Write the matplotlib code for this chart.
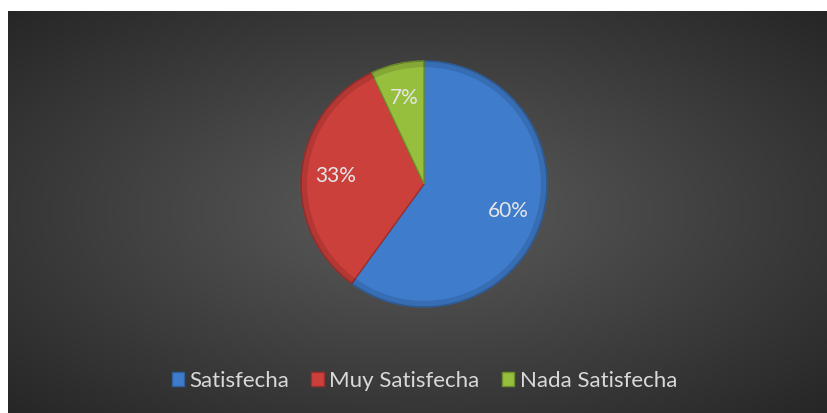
import matplotlib.pyplot as plt
import numpy as np
from matplotlib.patches import Patch, Wedge

# chart data
categories = ['Satisfecha', 'Muy Satisfecha', 'Nada Satisfecha']
values = [60, 33, 7]
colors = ['#3f7dcc', '#cc403c', '#97bf3e']
edge_colors = ['#2f5f9e', '#9a2f2c', '#6f8f2a']

plt.rcParams['font.family'] = ['Lato', 'DejaVu Sans']

W, H = 827, 413
fig = plt.figure(figsize=(W / 100, H / 100), dpi=100)
fig.patch.set_facecolor('white')

# dark radial-gradient background
bg = fig.add_axes([8 / W, 0, (W - 8) / W, (H - 11) / H])
bg.set_axis_off()
yy, xx = np.mgrid[-1:1:300j, -1:1:600j]
r = np.sqrt(xx ** 2 + yy ** 2) / np.sqrt(2)
shade = 0.36 - 0.21 * np.clip(r, 0, 1)
bg.imshow(np.dstack([shade] * 3), aspect='auto', extent=[0, 1, 0, 1],
          interpolation='bilinear')

# pie
cx, cy, rad = 424, H - 184, 123
ax = fig.add_axes([(cx - rad) / W, (cy - rad) / H, 2 * rad / W, 2 * rad / H])
wedges, texts, autotexts = ax.pie(
    values, colors=colors, startangle=90, counterclock=False,
    autopct='%1.0f%%', pctdistance=0.72,
    wedgeprops=dict(linewidth=1.0),
    textprops=dict(color='#e6e6e6', fontsize=15))
for w, ec in zip(wedges, edge_colors):
    w.set_edgecolor(ec)
# soft bevel shading on the rim
for w in wedges:
    rim = Wedge((0, 0), 1.0, w.theta1, w.theta2, width=0.05,
                facecolor='black', alpha=0.12, linewidth=0)
    ax.add_patch(rim)
ax.set_xlim(-1, 1)
ax.set_ylim(-1, 1)
ax.set_aspect('equal')

handles = [Patch(facecolor=c, edgecolor=e) for c, e in zip(colors, edge_colors)]
leg = fig.legend(handles, categories, loc='center', bbox_to_anchor=(0.513, 32 / H),
                 ncol=3, frameon=False, fontsize=16, handlelength=0.55,
                 handleheight=0.55, handletextpad=0.25, columnspacing=1.0)
for t in leg.get_texts():
    t.set_color('#d9d9d9')

fig.savefig('out.png', dpi=100)
